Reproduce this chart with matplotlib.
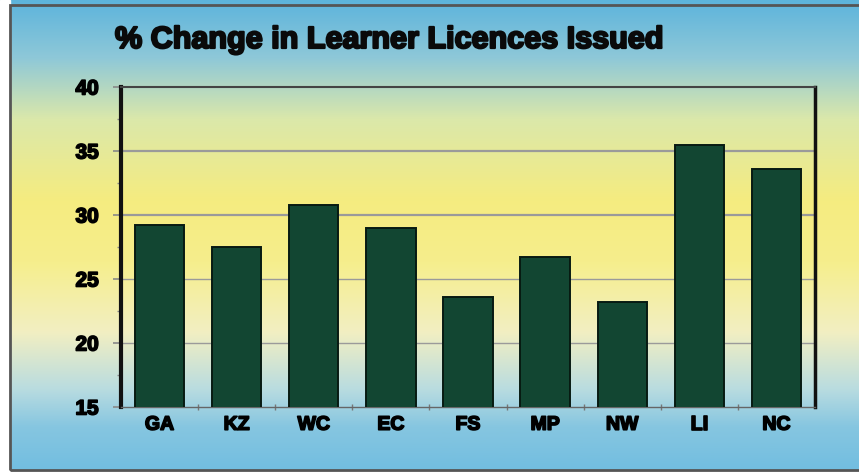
import numpy as np
import matplotlib.pyplot as plt
import matplotlib.patheffects as pe
from matplotlib.colors import LinearSegmentedColormap
from matplotlib.patches import Rectangle

plt.rcParams['font.family'] = ['Liberation Sans', 'DejaVu Sans']

provinces = ['GA', 'KZ', 'WC', 'EC', 'FS', 'MP', 'NW', 'LI', 'NC']
pct_change = [29.2, 27.5, 30.8, 29.0, 23.6, 26.7, 23.2, 35.5, 33.6]
yticks = [15, 20, 25, 30, 35, 40]

fig = plt.figure(figsize=(8.59, 4.75), dpi=100)

# background gradient: blue top -> yellow middle -> blue bottom
bg = fig.add_axes([0, 0, 1, 1])
cmap = LinearSegmentedColormap.from_list('sky', [
    (0.0, '#5db4dc'),
    (0.12, '#8ec8d8'),
    (0.25, '#dbe8aa'),
    (0.42, '#f5ec80'),
    (0.55, '#f6ee8c'),
    (0.70, '#f2efc2'),
    (0.82, '#b9dce0'),
    (0.90, '#86c6e0'),
    (1.0, '#70bde0'),
])
grad = np.linspace(0, 1, 256).reshape(-1, 1)
bg.imshow(grad, aspect='auto', cmap=cmap, extent=[0, 1, 0, 1], origin='upper')
bg.add_patch(Rectangle((0, 0), 10 / 859, 1, color='white', zorder=2))
bg.add_patch(Rectangle((0, 0), 1, 4 / 475, color='white', zorder=2))
bg.add_patch(Rectangle((10 / 859, 5 / 475), 1.0, 465 / 475, fill=False,
                       edgecolor='#555555', lw=2, zorder=3))
bg.set_xlim(0, 1)
bg.set_ylim(0, 1)
bg.axis('off')

ax = fig.add_axes([121 / 859, 68 / 475, 694 / 859, 320 / 475])
ax.patch.set_alpha(0)

x = np.arange(len(provinces))
ax.bar(x, pct_change, width=0.64, bottom=0, color='#124632',
       edgecolor='#071a12', linewidth=1.4, zorder=3)

heavy = [pe.withStroke(linewidth=1.2, foreground='#000000')]

ax.set_xlim(-0.5, len(provinces) - 0.5)
ax.set_ylim(15, 40)
ax.set_yticks(yticks)
ax.set_yticks(np.arange(15, 40, 2.5), minor=True)
ax.set_xticks(x)
ax.set_xticklabels(provinces, fontsize=14, fontweight='bold')
ax.set_yticklabels([str(t) for t in yticks], fontsize=15, fontweight='bold')
ax.set_xticks(np.arange(0.5, len(provinces) - 0.5, 1), minor=True)
for lbl in ax.get_xticklabels() + ax.get_yticklabels():
    lbl.set_path_effects(heavy)

for t in [20, 25, 30, 35]:
    ax.axhline(t, color='#9a9a9a', lw=1.6 if t >= 30 else 1.0, zorder=1)

ax.tick_params(axis='y', which='major', length=6, width=1.2, color='#888888', pad=10)
ax.tick_params(axis='y', which='minor', length=3, width=1, color='#888888')
ax.tick_params(axis='x', which='major', length=0, pad=7)
ax.tick_params(axis='x', which='minor', length=5, width=1, color='#777777',
               direction='inout')

ax.spines['left'].set_linewidth(3)
ax.spines['left'].set_color('#111111')
ax.spines['right'].set_linewidth(2.5)
ax.spines['right'].set_color('#111111')
ax.spines['top'].set_linewidth(1.5)
ax.spines['top'].set_color('#444444')
ax.spines['bottom'].set_linewidth(1)
ax.spines['bottom'].set_color('#666666')

fig.text(115 / 859, 1 - 40 / 475, '% Change in Learner Licences Issued',
         fontsize=22, fontweight='bold', ha='left', va='center', color='#0a0a0a',
         path_effects=[pe.withStroke(linewidth=1.6, foreground='#0a0a0a')])

fig.savefig('out.png', dpi=100)
